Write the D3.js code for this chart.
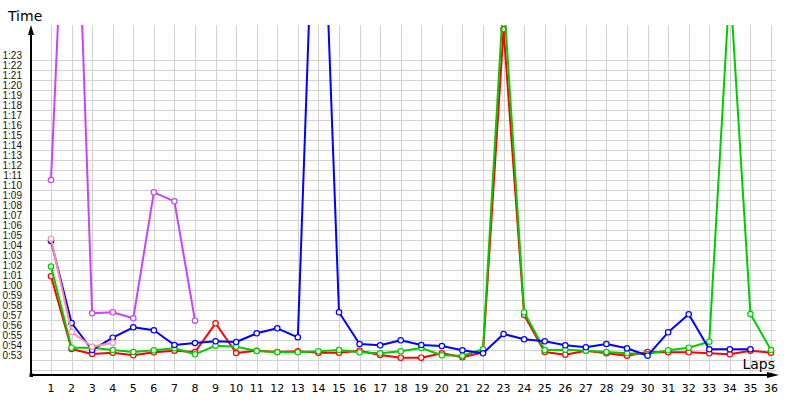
<!DOCTYPE html>
<html>
<head>
<meta charset="utf-8">
<script src="https://cdn.jsdelivr.net/npm/d3@7"></script>
<style>
  html, body { margin: 0; padding: 0; background: #fff; }
  svg { display: block; }
</style>
</head>
<body>
<svg id="chart" width="800" height="400"></svg>
<script>
// ---- Data (lap times in seconds) ----
const laps = d3.range(1, 37);
const yTickSeconds = d3.range(53, 84);   // 0:53 .. 1:23 labelled
const gridSeconds = d3.range(52, 84);    // grid rows
const redTimes = [61.37, 54.1, 53.6, 53.73, 53.47, 53.77, 53.93, 53.8, 56.67, 53.7, 53.93, 53.8, 53.87, 53.73, 53.73, 53.93, 53.5, 53.23, 53.23, 53.67, 53.27, 53.77, 86.07, 57.5, 53.8, 53.53, 53.93, 53.67, 53.43, 53.8, 53.77, 53.77, 53.67, 53.57, 53.93, 53.73];
const greenTimes = [62.35, 54.23, 54.23, 54.0, 53.8, 53.97, 54.17, 53.57, 54.43, 54.33, 53.9, 53.77, 53.77, 53.87, 54.0, 53.77, 53.67, 53.87, 54.2, 53.47, 53.43, 54.07, 89.5, 57.77, 54.0, 54.03, 53.93, 53.8, 53.67, 53.6, 53.97, 54.23, 54.83, 90.8, 57.6, 54.0];
const blueTimes = [64.9, 56.7, 54.0, 55.23, 56.27, 55.97, 54.5, 54.7, 54.87, 54.8, 55.67, 56.17, 55.27, 113.8, 57.77, 54.6, 54.47, 54.97, 54.5, 54.4, 53.97, 53.67, 55.6, 55.07, 54.87, 54.47, 54.27, 54.6, 54.17, 53.43, 55.77, 57.57, 54.07, 54.07, 54.07];
const pinkTimes = [65.13, 55.8, 54.33, 54.73];
const purpleTimes = [71.0, 117.2, 57.67, 57.77, 57.17, 69.77, 68.87, 56.93];

const seriesNames = ["red", "green", "blue", "pink", "purple"];
const seriesColors = ["#ff0000", "#00cc00", "#0000ff", "#ff8fa3", "#c845f5"];
const seriesData = [redTimes, greenTimes, blueTimes, pinkTimes, purpleTimes];

function fmt(s) {
  const m = Math.floor(s / 60), r = Math.round(s - m * 60);
  return m + ":" + (r < 10 ? "0" : "") + r;
}

const svg = d3.select("#chart");
const x = d3.scaleLinear().domain([1, 36]).range([51, 771]);
const y = d3.scaleLinear().domain([53, 83]).range([360, 60]);
const axisX = 31, axisY = 375, plotTop = 25, gridRight = 776;

// Grid
const grid = svg.append("g").attr("stroke", "#d2d2d2").attr("stroke-width", 1).attr("shape-rendering", "crispEdges");
grid.selectAll("line.h").data(gridSeconds).join("line")
  .attr("x1", axisX).attr("x2", gridRight)
  .attr("y1", d => Math.round(y(d)) + 0.5).attr("y2", d => Math.round(y(d)) + 0.5);
grid.selectAll("line.v").data(laps).join("line")
  .attr("x1", d => Math.round(x(d)) + 0.5).attr("x2", d => Math.round(x(d)) + 0.5)
  .attr("y1", plotTop).attr("y2", axisY);

// Y tick labels
svg.append("g").selectAll("text").data(yTickSeconds).join("text")
  .attr("x", 22).attr("y", d => y(d) - 1.5)
  .attr("text-anchor", "end")
  .attr("font-family", "Liberation Sans, Arial, sans-serif")
  .attr("font-size", "10px")
  .attr("fill", "#1a1400")
  .text(d => fmt(d));

// X tick labels
svg.append("g").selectAll("text").data(laps).join("text")
  .attr("x", d => x(d)).attr("y", 392)
  .attr("text-anchor", "middle")
  .attr("font-family", "DejaVu Sans, sans-serif")
  .attr("font-size", "11px")
  .attr("fill", "#000")
  .text(d => d);

// Clip
svg.append("defs").append("clipPath").attr("id", "clip")
  .append("rect").attr("x", axisX).attr("y", plotTop).attr("width", 800 - axisX).attr("height", axisY - plotTop + 2);

const plot = svg.append("g").attr("clip-path", "url(#clip)");
const line = d3.line().x((d, i) => x(i + 1)).y(d => y(d));

seriesData.forEach((vals, si) => {
  const g = plot.append("g").attr("class", seriesNames[si]);
  g.append("path").datum(vals)
    .attr("d", line)
    .attr("fill", "none")
    .attr("stroke", seriesColors[si])
    .attr("stroke-width", 2)
    .attr("stroke-linejoin", "round");
  g.selectAll("circle").data(vals).join("circle")
    .attr("cx", (d, i) => x(i + 1)).attr("cy", d => y(d))
    .attr("r", 2.7)
    .attr("fill", "#fff")
    .attr("stroke", seriesColors[si])
    .attr("stroke-width", 1.2);
});

// Axes
svg.append("line").attr("x1", axisX).attr("x2", axisX).attr("y1", axisY).attr("y2", plotTop + 8)
  .attr("stroke", "#000").attr("stroke-width", 2);
svg.append("line").attr("x1", axisX).attr("x2", 770).attr("y1", axisY).attr("y2", axisY)
  .attr("stroke", "#000").attr("stroke-width", 2);
svg.append("path").attr("d", `M${axisX},${plotTop} L${axisX - 3},${plotTop + 10} L${axisX + 3},${plotTop + 10} Z`).attr("fill", "#000");
svg.append("path").attr("d", `M779,${axisY} L767,${axisY - 3} L767,${axisY + 3} Z`).attr("fill", "#000");
svg.append("rect").attr("x", axisX - 1.5).attr("y", axisY - 1.5).attr("width", 3.5).attr("height", 3.5).attr("fill", "#000");

// Axis titles
svg.append("text").attr("x", 8).attr("y", 21)
  .attr("font-family", "DejaVu Sans, sans-serif").attr("font-size", "14px").attr("fill", "#000")
  .text("Time");
svg.append("text").attr("x", 775).attr("y", 369).attr("text-anchor", "end")
  .attr("font-family", "DejaVu Sans, sans-serif").attr("font-size", "14px").attr("fill", "#000")
  .text("Laps");
</script>
</body>
</html>
